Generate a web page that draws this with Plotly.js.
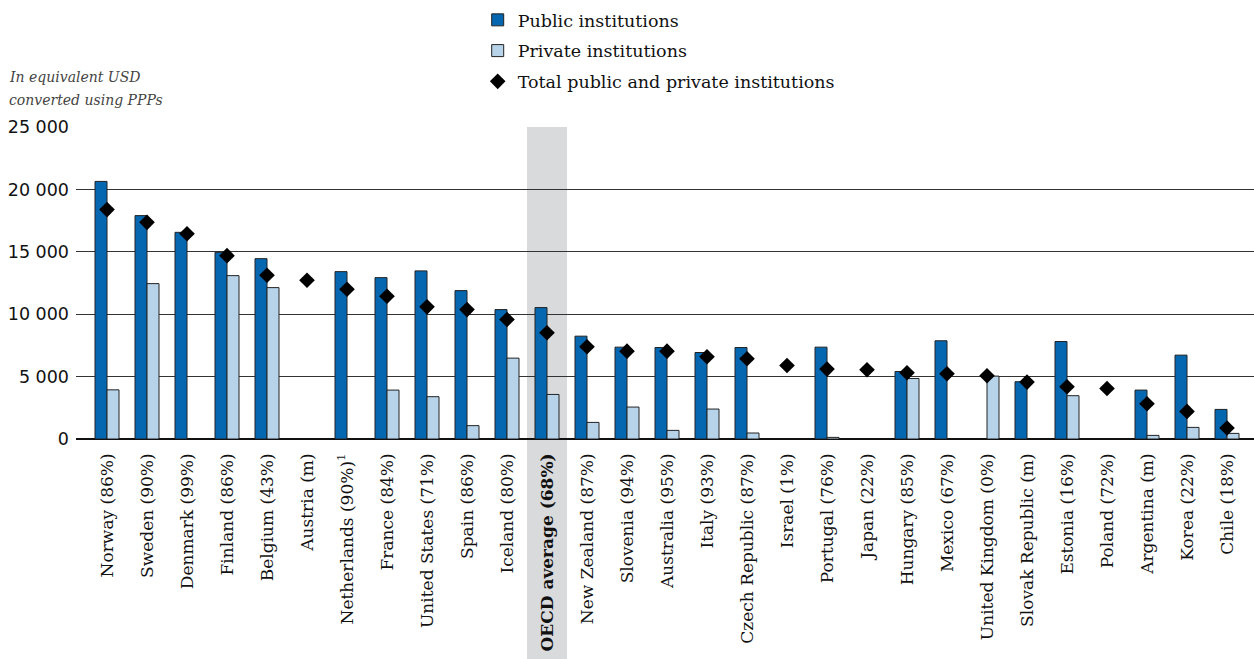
<!DOCTYPE html>
<html>
<head>
<meta charset="utf-8">
<script src="https://cdn.plot.ly/plotly-3.0.1.min.js"></script>
<style>html,body{margin:0;padding:0;background:#fff;}#chart{width:1254px;height:659px;}</style>
</head>
<body>
<div id="chart"></div>
<script>
var categories = ["Norway (86%)", "Sweden (90%)", "Denmark (99%)", "Finland (86%)", "Belgium (43%)", "Austria (m)", "Netherlands (90%)<sup>1</sup>", "France (84%)", "United States (71%)", "Spain (86%)", "Iceland (80%)", "<b>OECD average (68%)</b>", "New Zealand (87%)", "Slovenia (94%)", "Australia (95%)", "Italy (93%)", "Czech Republic (87%)", "Israel (1%)", "Portugal (76%)", "Japan (22%)", "Hungary (85%)", "Mexico (67%)", "United Kingdom (0%)", "Slovak Republic (m)", "Estonia (16%)", "Poland (72%)", "Argentina (m)", "Korea (22%)", "Chile (18%)"];
var publicInst = [20640, 17900, 16560, 14960, 14450, null, 13410, 12930, 13470, 11890, 10370, 10530, 8240, 7360, 7330, 6930, 7330, null, 7360, null, 5410, 7870, null, 4590, 7810, null, 3920, 6720, 2370];
var privateInst = [3940, 12450, null, 13090, 12130, null, null, 3920, 3390, 1070, 6480, 3570, 1330, 2560, 690, 2400, 480, null, 130, null, 4850, null, 5040, null, 3470, null, 290, 930, 450];
var totalInst = [18380, 17360, 16450, 14690, 13120, 12720, 12000, 11440, 10590, 10370, 9570, 8510, 7390, 7040, 7040, 6590, 6430, 5890, 5600, 5550, 5310, 5230, 5070, 4560, 4190, 4050, 2830, 2210, 880];
var yTickVals = [0, 5000, 10000, 15000, 20000, 25000];
var yTickText = ["0", "5 000", "10 000", "15 000", "20 000", "25 000"];
var highlightCategory = "<b>OECD average (68%)</b>";
var yTitleLines = ["In equivalent USD", "converted using PPPs"];

var font = "DejaVu Serif, serif";
var traces = [
  {type: "bar", name: "Public institutions", x: categories, y: publicInst, legendgroup: "a",
   marker: {color: "#0567b0", line: {color: "#222", width: 1}}},
  {type: "bar", name: "Private institutions", x: categories, y: privateInst, legendgroup: "b",
   marker: {color: "#b7d3ea", line: {color: "#222", width: 1}}},
  {type: "scatter", mode: "markers", name: "Total public and private institutions", x: categories, y: totalInst, legendgroup: "c",
   marker: {symbol: "diamond", color: "#000", size: 12}}
];
var layout = {
  width: 1254, height: 659,
  margin: {l: 76, r: 0, t: 127, b: 220},
  paper_bgcolor: "#fff", plot_bgcolor: "rgba(0,0,0,0)",
  font: {family: font, color: "#111", size: 17},
  barmode: "group", bargap: 0.4, bargroupgap: 0,
  showlegend: true,
  legend: {x: 0.341, xanchor: "left", y: 0.997, yanchor: "top", yref: "container",
           font: {family: font, size: 17.5, color: "#111"}, traceorder: "grouped",
           tracegroupgap: 5, bgcolor: "rgba(0,0,0,0)"},
  xaxis: {type: "category", range: [-0.775, 28.675], tickangle: -90, showgrid: false,
          ticks: "", showline: false, zeroline: false, ticklabelstandoff: 10,
          tickfont: {family: font, size: 17, color: "#111"}, fixedrange: true},
  yaxis: {range: [0, 25000], tickvals: yTickVals, ticktext: yTickText, showgrid: true,
          gridcolor: "#333", gridwidth: 1, zeroline: true, zerolinecolor: "#111", zerolinewidth: 1.5,
          showline: false, ticks: "", ticklabelstandoff: 6,
          tickfont: {family: "DejaVu Sans, sans-serif", size: 17.5, color: "#111"}, fixedrange: true},
  shapes: [{type: "rect", xref: "x", yref: "paper", x0: categories.indexOf(highlightCategory) - 0.5,
            x1: categories.indexOf(highlightCategory) + 0.5, y0: -0.71, y1: 1,
            fillcolor: "#d9dadc", line: {width: 0}, layer: "below"}],
  annotations: [
    {xref: "paper", yref: "paper", x: -0.0585, y: 1.1603, xanchor: "left", yanchor: "middle",
     showarrow: false, text: "<i>" + yTitleLines[0] + "</i>", font: {family: font, size: 14, color: "#444"}},
    {xref: "paper", yref: "paper", x: -0.0585, y: 1.0865, xanchor: "left", yanchor: "middle",
     showarrow: false, text: "<i>" + yTitleLines[1] + "</i>", font: {family: font, size: 14, color: "#444"}}
  ]
};
Plotly.newPlot("chart", traces, layout, {displayModeBar: false, staticPlot: true});
</script>
</body>
</html>
